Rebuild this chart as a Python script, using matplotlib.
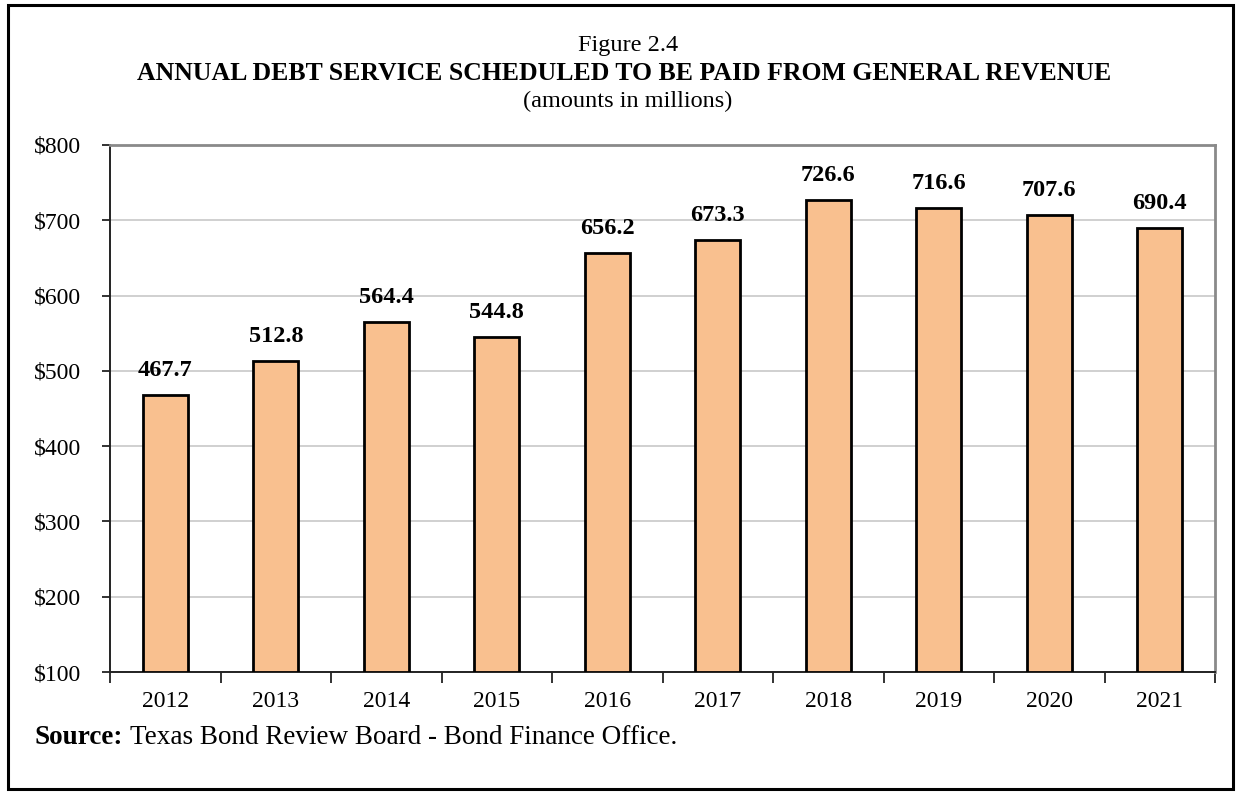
import matplotlib
matplotlib.use('Agg')
import matplotlib.pyplot as plt
from matplotlib.patches import Rectangle
import numpy as np

years = ['2012', '2013', '2014', '2015', '2016', '2017', '2018', '2019', '2020', '2021']
debt_service = [467.7, 512.8, 564.4, 544.8, 656.2, 673.3, 726.6, 716.6, 707.6, 690.4]
y_ticks = [100, 200, 300, 400, 500, 600, 700, 800]

plt.rcParams['font.family'] = ['Liberation Serif', 'DejaVu Serif']

W, H = 1238, 793
fig = plt.figure(figsize=(W / 100, H / 100), dpi=100)

# outer frame around the whole figure
fig.patches.append(Rectangle((8 / W, 4 / H), 1225 / W, 784 / H, transform=fig.transFigure,
                             fill=False, edgecolor='black', linewidth=2.2))

ax = fig.add_axes([110 / W, 1 - 672 / H, 1105 / W, 527 / H])

x = np.arange(len(years))
ax.bar(x, np.array(debt_service) - 100, bottom=100, width=0.41, color='#F9C08F',
       edgecolor='black', linewidth=2.0, zorder=3)

for xi, v in zip(x, debt_service):
    ax.annotate(f'{v:.1f}', (xi, v), xytext=(0, 10), textcoords='offset points',
                ha='center', va='bottom', fontsize=17.5, fontweight='bold')

ax.set_xlim(-0.5, len(years) - 0.5)
ax.set_ylim(100, 800)
ax.set_yticks(y_ticks)
ax.set_yticklabels([f'${t}' for t in y_ticks], fontsize=17)
ax.tick_params(axis='y', length=6, width=1.3, pad=15, color='#222222')

# tick marks between categories, labels under bars
ax.set_xticks(np.arange(len(years) + 1) - 0.5)
ax.set_xticklabels([])
ax.set_xticks(x, minor=True)
ax.set_xticklabels(years, minor=True, fontsize=17)
ax.tick_params(axis='x', which='major', length=8, width=1.3, color='#222222')
ax.tick_params(axis='x', which='minor', length=0, pad=14)

ax.grid(axis='y', color='#c8c8c8', linewidth=1.2, zorder=0)
ax.set_axisbelow(True)

for s in ['left', 'bottom']:
    ax.spines[s].set_color('#222222')
    ax.spines[s].set_linewidth(1.4)
for s in ['top', 'right']:
    ax.spines[s].set_color('#8a8a8a')
    ax.spines[s].set_linewidth(2.0)

fig.text(0.507, 1 - 45 / H, 'Figure 2.4', ha='center', va='center', fontsize=17.5)
fig.text(0.504, 1 - 73 / H, 'ANNUAL DEBT SERVICE SCHEDULED TO BE PAID FROM GENERAL REVENUE',
         ha='center', va='center', fontsize=18.5, fontweight='bold')
fig.text(0.507, 1 - 101 / H, '(amounts in millions)', ha='center', va='center', fontsize=17.5)

fig.text(35 / W, 1 - 737 / H, 'Source:', ha='left', va='center', fontsize=19.5,
         fontweight='bold')
fig.text(130 / W, 1 - 737 / H, 'Texas Bond Review Board - Bond Finance Office.',
         ha='left', va='center', fontsize=19.5)

fig.savefig('out.png', dpi=100)
